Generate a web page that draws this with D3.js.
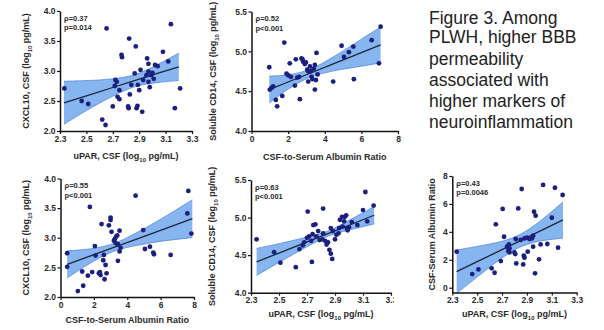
<!DOCTYPE html>
<html>
<head>
<meta charset="utf-8">
<script src="https://cdn.jsdelivr.net/npm/d3@7"></script>
<style>
   body { margin: 0; background: #fff; }
   svg { display: block; }
   .axis path, .axis line { stroke: #111; }
   .axis path { stroke-width: 1.5; }
   .axis line { stroke-width: 1.2; }
   .axis text { font-family: "Liberation Sans", Arial, sans-serif; font-weight: bold; font-size: 8.5px; fill: #2a2a2a; }
   .title { font-family: "Liberation Sans", Arial, sans-serif; font-weight: bold; font-size: 9px; fill: #2a2a2a; }
   .stats { font-family: "Liberation Sans", Arial, sans-serif; font-weight: bold; font-size: 7.5px; fill: #2a2a2a; }
   .caption { font-family: "Liberation Sans", Arial, sans-serif; font-size: 17.5px; fill: #222; }
</style>
</head>
<body>
<div class="figure-container"></div>
<script>
// tick labels
const upar_ticks = [2.3, 2.5, 2.7, 2.9, 3.1, 3.3];
const ratio_ticks = [0, 2, 4, 6, 8];
const cxcl10_ticks = [2.0, 2.5, 3.0, 3.5, 4.0];
const cd14_ticks = [4.0, 4.5, 5.0, 5.5];

// panel a: uPAR vs CXCL10
const a_x = [2.333, 2.653, 2.464, 2.514, 2.62, 2.645, 2.70, 2.715, 2.72, 2.73, 2.736, 2.75, 2.75, 2.766, 2.77,
   2.816, 2.82, 2.824, 2.829, 2.84, 2.874, 2.866, 2.88, 2.887, 2.89, 2.90, 2.923, 2.91, 2.93, 2.955, 2.96,
   2.97, 2.97, 2.97, 2.98, 2.99, 3.0, 3.01, 3.02, 3.04, 3.08, 3.12, 3.14, 3.17, 3.21];
const a_y = [2.71, 3.71, 2.50, 2.45, 2.19, 2.10, 2.41, 2.75, 2.85, 2.82, 2.57, 2.68, 2.53, 3.27, 3.23,
   2.41, 2.38, 3.54, 2.61, 2.77, 3.41, 2.96, 2.38, 2.42, 2.77, 2.68, 2.32, 3.02, 2.85, 2.93, 3.21,
   3.12, 2.99, 2.82, 2.73, 2.93, 2.97, 2.87, 3.10, 3.08, 3.32, 3.16, 3.78, 2.38, 2.71];
const a_fit_x = [2.33, 2.5, 2.7, 2.87, 3.05, 3.2];
const a_fit_y = [2.47, 2.587, 2.725, 2.843, 2.967, 3.07];
const a_fit_upper = [2.83, 2.84, 2.87, 2.94, 3.12, 3.30];
const a_fit_lower = [2.11, 2.34, 2.58, 2.74, 2.81, 2.84];
const a_stats = ['ρ=0.37', 'p=0.014'];

// panel b: albumin ratio vs soluble CD14
const b_x = [0.97, 1.0, 1.09, 1.18, 1.33, 1.40, 1.68, 1.79, 1.91, 2.0, 2.09, 2.15, 2.37, 2.42, 2.50,
   2.6, 2.64, 2.73, 2.79, 2.82, 2.91, 2.97, 3.04, 3.10, 3.10, 3.19, 3.22, 3.28, 3.33, 3.40, 3.46,
   3.46, 3.52, 3.55, 3.61, 4.46, 4.92, 5.05, 5.32, 5.56, 5.59, 6.56, 6.96, 7.05];
const b_y = [4.80, 4.52, 4.54, 4.56, 4.39, 4.31, 4.44, 5.11, 4.72, 4.70, 4.85, 4.68, 4.57, 4.90, 4.67,
   4.68, 4.40, 4.91, 4.90, 4.87, 4.84, 4.86, 4.77, 4.75, 4.62, 4.81, 4.75, 4.68, 4.65, 4.78, 4.83,
   4.52, 4.64, 4.98, 4.71, 4.62, 5.07, 4.93, 4.99, 5.06, 4.65, 5.14, 4.85, 5.31];
const b_fit_x = [0.97, 2, 3.2, 4.5, 6, 7.05];
const b_fit_y = [4.52, 4.615, 4.725, 4.845, 4.983, 5.08];
const b_fit_upper = [4.69, 4.705, 4.775, 4.935, 5.153, 5.305];
const b_fit_lower = [4.35, 4.525, 4.675, 4.755, 4.813, 4.855];
const b_stats = ['ρ=0.52', 'p<0.001'];

// panel c: albumin ratio vs CXCL10
const c_x = [0.4, 0.4, 1.04, 1.36, 1.3, 1.64, 1.76, 1.9, 2.06, 2.1, 2.3, 2.36, 2.4, 2.46, 2.56, 2.6,
   2.64, 2.7, 2.76, 2.9, 3.0, 3.0, 3.06, 3.2, 3.26, 3.3, 3.34, 3.4, 3.44, 3.44, 3.54, 3.54, 3.6,
   4.5, 4.96, 5.06, 5.36, 5.56, 5.6, 6.6, 7.66, 7.6, 7.84];
const c_y = [2.74, 2.51, 2.10, 2.19, 2.43, 2.36, 3.52, 2.42, 2.86, 2.70, 2.40, 2.42, 2.37, 3.23, 2.62, 2.71,
   2.30, 2.54, 2.40, 3.21, 3.30, 3.34, 3.10, 2.95, 2.98, 2.91, 3.02, 3.04, 2.61, 2.89, 3.12, 2.77, 2.83,
   3.71, 3.13, 2.81, 2.85, 2.75, 2.72, 2.71, 3.79, 3.41, 3.07];
const c_fit_x = [0.4, 1.8, 3.2, 4.6, 6.2, 7.9];
const c_fit_y = [2.55, 2.694, 2.838, 2.982, 3.147, 3.322];
const c_fit_upper = [2.78, 2.814, 2.903, 3.092, 3.347, 3.642];
const c_fit_lower = [2.32, 2.574, 2.773, 2.872, 2.947, 3.002];
const c_stats = ['ρ=0.55', 'p<0.001'];

// panel d: uPAR vs soluble CD14
const d_x = [2.34, 2.465, 2.51, 2.62, 2.646, 2.67, 2.68, 2.70, 2.705, 2.715, 2.73, 2.735, 2.74, 2.745,
   2.76, 2.766, 2.78, 2.79, 2.81, 2.815, 2.815, 2.83, 2.84, 2.85, 2.86, 2.87, 2.87, 2.88, 2.885, 2.90,
   2.91, 2.925, 2.93, 2.935, 2.95, 2.955, 2.965, 2.97, 2.98, 2.985, 2.99, 3.0, 3.02, 3.06, 3.10,
   3.117, 3.13, 3.176];
const d_y = [4.71, 4.54, 4.40, 4.34, 4.58, 4.63, 4.67, 4.73, 5.08, 4.75, 4.69, 4.41, 4.78, 4.90,
   4.91, 4.75, 4.82, 4.70, 4.71, 5.12, 4.79, 4.69, 4.64, 4.67, 4.57, 4.86, 4.52, 4.45, 4.82, 4.71,
   4.77, 4.79, 4.86, 4.97, 5.01, 4.88, 4.95, 5.01, 5.03, 4.86, 4.83, 4.87, 4.94, 4.90, 5.10,
   5.34, 4.95, 5.16];
const d_fit_x = [2.34, 2.5, 2.7, 2.85, 3.0, 3.18];
const d_fit_y = [4.41, 4.528, 4.676, 4.787, 4.898, 5.031];
const d_fit_upper = [4.59, 4.653, 4.741, 4.822, 4.963, 5.146];
const d_fit_lower = [4.23, 4.403, 4.611, 4.752, 4.833, 4.916];
const d_stats = ['ρ=0.63', 'p<0.001'];

// panel e: uPAR vs albumin ratio
const e_x = [2.335, 2.46, 2.51, 2.616, 2.64, 2.65, 2.69, 2.705, 2.716, 2.74, 2.75, 2.755, 2.76, 2.76,
   2.80, 2.806, 2.81, 2.814, 2.83, 2.85, 2.858, 2.87, 2.875, 2.88, 2.88, 2.90, 2.906, 2.92, 2.94,
   2.95, 2.95, 2.957, 2.965, 2.97, 2.997, 3.01, 3.03, 3.064, 3.1, 3.125, 3.15, 3.187];
const e_y = [2.58, 0.98, 1.31, 1.39, 1.07, 4.54, 1.91, 5.64, 3.65, 2.94, 2.63, 3.10, 2.82, 2.53,
   2.53, 2.41, 3.49, 1.74, 5.68, 3.42, 7.07, 1.67, 2.29, 2.15, 3.53, 3.58, 2.58, 3.49, 3.53,
   2.94, 3.72, 5.44, 1.03, 5.16, 2.03, 3.10, 7.36, 3.13, 5.01, 7.16, 2.87, 6.64];
const e_fit_x = [2.335, 2.5, 2.7, 2.84, 3.0, 3.19];
const e_fit_y = [1.15, 1.864, 2.73, 3.336, 4.029, 4.852];
const e_fit_upper = [2.70, 2.96, 3.33, 3.79, 4.73, 6.15];
const e_fit_lower = [-0.40, 0.76, 2.13, 2.89, 3.33, 3.55];
const e_stats = ['ρ=0.43', 'p=0.0046'];

const caption_lines = ['Figure 3. Among', 'PLWH, higher BBB', 'permeability',
   'associated with', 'higher markers of', 'neuroinflammation'];

const upar_title = ['uPAR, CSF (log', '10', ' pg/mL)'];
const ratio_title = ['CSF-to-Serum Albumin Ratio'];
const cxcl10_title = ['CXCL10, CSF (log', '10', ' pg/mL)'];
const cd14_title = ['Soluble CD14, CSF (log', '10', ' pg/mL)'];
const ratio_y_title = ['CSF-Serum Albumin Ratio'];

function zip_fit(xs, ys, up, lo) {
   return xs.map((x, i) => ({x: x, y: ys[i], upper: up[i], lower: lo[i]}));
}

const panels = [
   {id: 'a', frame: {left: 60, right: 192, top: 11, bottom: 131}, x_domain: [2.3, 3.3], y_domain: [2, 4],
      x_ticks: upar_ticks, y_ticks: cxcl10_ticks, x_fmt: '.1f', y_fmt: '.1f',
      xs: a_x, ys: a_y, fit: zip_fit(a_fit_x, a_fit_y, a_fit_upper, a_fit_lower), stats: a_stats,
      x_title: upar_title, y_title: cxcl10_title, x_title_dy: 28, y_title_dx: -34},
   {id: 'b', frame: {left: 251.5, right: 398, top: 11.5, bottom: 131}, x_domain: [0, 8], y_domain: [4, 5.5],
      x_ticks: ratio_ticks, y_ticks: cd14_ticks, x_fmt: 'd', y_fmt: '.1f',
      xs: b_x, ys: b_y, fit: zip_fit(b_fit_x, b_fit_y, b_fit_upper, b_fit_lower), stats: b_stats,
      x_title: ratio_title, y_title: cd14_title, x_title_dy: 29, y_title_dx: -39},
   {id: 'c', frame: {left: 60.5, right: 194, top: 178.5, bottom: 297}, x_domain: [0, 8], y_domain: [2, 4],
      x_ticks: ratio_ticks, y_ticks: cxcl10_ticks, x_fmt: 'd', y_fmt: '.1f',
      xs: c_x, ys: c_y, fit: zip_fit(c_fit_x, c_fit_y, c_fit_upper, c_fit_lower), stats: c_stats,
      x_title: ratio_title, y_title: cxcl10_title, x_title_dy: 26, y_title_dx: -35},
   {id: 'd', frame: {left: 251, right: 391, top: 180, bottom: 292.7}, x_domain: [2.3, 3.3], y_domain: [4, 5.5],
      x_ticks: upar_ticks, y_ticks: cd14_ticks, x_fmt: '.1f', y_fmt: '.1f',
      xs: d_x, ys: d_y, fit: zip_fit(d_fit_x, d_fit_y, d_fit_upper, d_fit_lower), stats: d_stats,
      x_title: upar_title, y_title: cd14_title, x_title_dy: 24, y_title_dx: -39},
   {id: 'e', frame: {left: 452.3, right: 576.7, top: 176, bottom: 292.6}, x_domain: [2.3, 3.3], y_domain: [-0.35, 8],
      x_ticks: upar_ticks, y_ticks: ratio_ticks, x_fmt: '.1f', y_fmt: 'd',
      xs: e_x, ys: e_y, fit: zip_fit(e_fit_x, e_fit_y, e_fit_upper, e_fit_lower), stats: e_stats,
      x_title: upar_title, y_title: ratio_y_title, x_title_dy: 24, y_title_dx: -20, cover: true},
];

function build_container(width, height) {
   return d3.select('.figure-container')
      .append('svg')
      .attr('width', width)
      .attr('height', height);
}

function add_title(g, parts, x, y, rotate) {
   const t = g.append('text')
      .attr('class', 'title')
      .attr('text-anchor', 'middle')
      .attr('transform', `translate(${x}, ${y})` + (rotate ? ' rotate(-90)' : ''))
      .attr('dy', '0.35em');
   t.append('tspan').text(parts[0]);
   if (parts.length > 1) {
      t.append('tspan').text(parts[1]).attr('font-size', '6px').attr('baseline-shift', 'sub');
      t.append('tspan').text(parts[2]);
   }
}

function draw_panel(svg, p) {
   const f = p.frame;
   const g = svg.append('g').attr('class', `panel panel-${p.id}`);

   if (p.cover) {
      // this panel sits on top of its neighbour's last tick label
      g.append('rect').attr('x', 394).attr('y', 168).attr('width', 210).attr('height', 162).attr('fill', '#fff');
   }

   const x = d3.scaleLinear().domain(p.x_domain).range([f.left, f.right]);
   const y = d3.scaleLinear().domain(p.y_domain).range([f.bottom, f.top]);

   const clip_id = `clip-${p.id}`;
   g.append('clipPath').attr('id', clip_id)
      .append('rect')
      .attr('x', f.left).attr('y', f.top)
      .attr('width', f.right - f.left).attr('height', f.bottom - f.top);

   // confidence band
   const band = d3.area()
      .x(d => x(d.x))
      .y0(d => y(d.lower))
      .y1(d => y(d.upper))
      .curve(d3.curveCatmullRom);
   g.append('path')
      .datum(p.fit)
      .attr('clip-path', `url(#${clip_id})`)
      .attr('d', band)
      .style('fill', '#86b5ef')
      .style('stroke', 'none');

   const edge_up = d3.line().x(d => x(d.x)).y(d => y(d.upper)).curve(d3.curveCatmullRom);
   const edge_lo = d3.line().x(d => x(d.x)).y(d => y(d.lower)).curve(d3.curveCatmullRom);
   [edge_up, edge_lo].forEach(gen => {
      g.append('path')
         .datum(p.fit)
         .attr('clip-path', `url(#${clip_id})`)
         .attr('d', gen)
         .style('fill', 'none')
         .style('stroke', '#4a80da')
         .style('stroke-width', 0.7);
   });

   // regression line
   const line_gen = d3.line().x(d => x(d.x)).y(d => y(d.y));
   g.append('path')
      .datum(p.fit)
      .attr('d', line_gen)
      .style('fill', 'none')
      .style('stroke', '#1a263c')
      .style('stroke-width', 1.3);

   // points
   g.append('g')
      .selectAll('circle')
      .data(p.xs.map((v, i) => [v, p.ys[i]]))
      .enter()
      .append('circle')
      .attr('cx', d => x(d[0]))
      .attr('cy', d => y(d[1]))
      .attr('r', 2.4)
      .style('fill', '#1b1f7e');

   // axes
   g.append('g')
      .attr('class', 'axis x')
      .attr('transform', `translate(0, ${f.bottom})`)
      .call(d3.axisBottom(x).tickValues(p.x_ticks).tickFormat(d3.format(p.x_fmt)).tickSize(3).tickSizeOuter(0).tickPadding(1.5));
   g.append('g')
      .attr('class', 'axis y')
      .attr('transform', `translate(${f.left}, 0)`)
      .call(d3.axisLeft(y).tickValues(p.y_ticks).tickFormat(d3.format(p.y_fmt)).tickSize(3).tickSizeOuter(0).tickPadding(1.5));

   // axis titles
   add_title(g, p.x_title, (f.left + f.right) / 2, f.bottom + p.x_title_dy - 3, false);
   add_title(g, p.y_title, f.left + p.y_title_dx, (f.top + f.bottom) / 2, true);

   // correlation stats
   g.selectAll('.stats')
      .data(p.stats)
      .enter()
      .append('text')
      .attr('class', 'stats')
      .attr('x', f.left + 4)
      .attr('y', (d, i) => f.top + 7 + i * 9.5)
      .attr('dy', '0.35em')
      .text(d => d);
}

function draw_caption(svg) {
   const baselines = [24, 43, 65, 86, 107, 128];
   svg.append('g')
      .selectAll('text')
      .data(caption_lines)
      .enter()
      .append('text')
      .attr('class', 'caption')
      .attr('x', 429)
      .attr('y', (d, i) => baselines[i])
      .text(d => d);
}

function main() {
   const svg = build_container(604, 330);
   panels.forEach(p => draw_panel(svg, p));
   draw_caption(svg);
}

main();
</script>
</body>
</html>
